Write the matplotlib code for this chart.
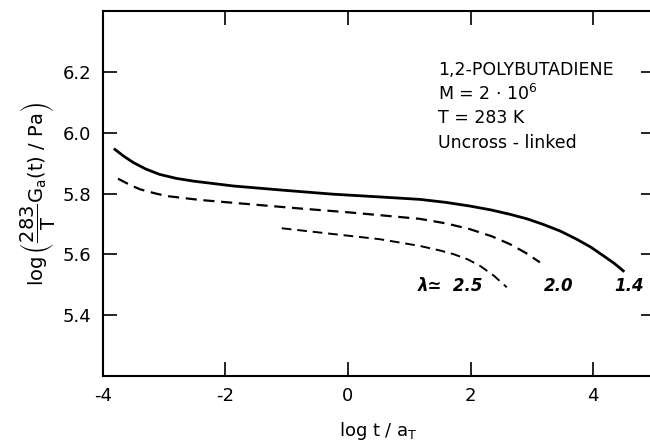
import matplotlib
matplotlib.use('Agg')
from matplotlib import pyplot as plt

# curve data (log t/aT, log G)
x14 = [-3.80, -3.65, -3.50, -3.30, -3.07, -2.80, -2.52, -1.87, -1.05, -0.24, 0.52, 1.17,
       1.60, 1.99, 2.34, 2.64, 2.92, 3.18, 3.46, 3.73, 3.96, 4.17, 4.34, 4.49]
y14 = [5.945, 5.922, 5.902, 5.881, 5.863, 5.850, 5.841, 5.825, 5.811, 5.798, 5.789, 5.781,
       5.771, 5.759, 5.746, 5.732, 5.717, 5.699, 5.677, 5.650, 5.624, 5.595, 5.571, 5.546]

x20 = [-3.75, -3.55, -3.39, -3.15, -2.96, -2.41, -1.60, -0.78, 0.03, 0.52, 1.17, 1.60,
       1.99, 2.34, 2.64, 2.90, 3.13]
y20 = [5.849, 5.828, 5.814, 5.801, 5.792, 5.779, 5.765, 5.751, 5.738, 5.729, 5.717, 5.702,
       5.683, 5.660, 5.634, 5.605, 5.574]

x25 = [-1.08, -0.24, 0.52, 1.17, 1.50, 1.72, 1.95, 2.15, 2.38, 2.59]
y25 = [5.686, 5.667, 5.650, 5.628, 5.613, 5.601, 5.584, 5.563, 5.530, 5.492]

lam_labels = ['λ≃  2.5', '2.0', '1.4']
lam_x = [1.67, 3.43, 4.58]
lam_y = [5.497, 5.497, 5.497]

info = ['1,2-POLYBUTADIENE', r'M = 2 $\cdot$ 10$^6$', 'T = 283 K', 'Uncross - linked']
info_y = [6.205, 6.128, 6.048, 5.966]

plt.rcParams['font.family'] = ['DejaVu Sans']
plt.rcParams['mathtext.fontset'] = 'dejavusans'
plt.rcParams['mathtext.default'] = 'regular'

fig = plt.figure(figsize=(6.5, 4.43), dpi=100)
ax = fig.add_axes([0.158, 0.151, 0.849, 0.824])

ax.plot(x14, y14, color='black', lw=2.0)
ax.plot(x20, y20, color='black', lw=1.6, linestyle=(0, (5, 3)))
ax.plot(x25, y25, color='black', lw=1.4, linestyle=(0, (5, 3)))

for t, xx, yy in zip(lam_labels, lam_x, lam_y):
    ax.text(xx, yy, t, ha='center', va='center', fontsize=12,
            fontweight='bold', fontstyle='italic')

for t, yy in zip(info, info_y):
    ax.text(1.47, yy, t, fontsize=12.5, ha='left', va='center')

ax.set_xlim(-4, 5)
ax.set_ylim(5.2, 6.4)
ax.set_xticks([-4, -2, 0, 2, 4])
ax.set_xticklabels(['-4', '-2', '0', '2', '4'])
ax.set_yticks([5.4, 5.6, 5.8, 6.0, 6.2])
ax.tick_params(direction='in', length=10, width=1.2, labelsize=13,
               top=True, right=True, pad=8)
for s in ax.spines.values():
    s.set_linewidth(1.5)

ax.set_xlabel(r'log t / a$_T$', fontsize=13, labelpad=11)
ax.set_ylabel(r'$\log\left(\dfrac{283}{T}G_a(t)\ /\ Pa\right)$', fontsize=14, labelpad=4)

fig.savefig('out.png', dpi=100)
